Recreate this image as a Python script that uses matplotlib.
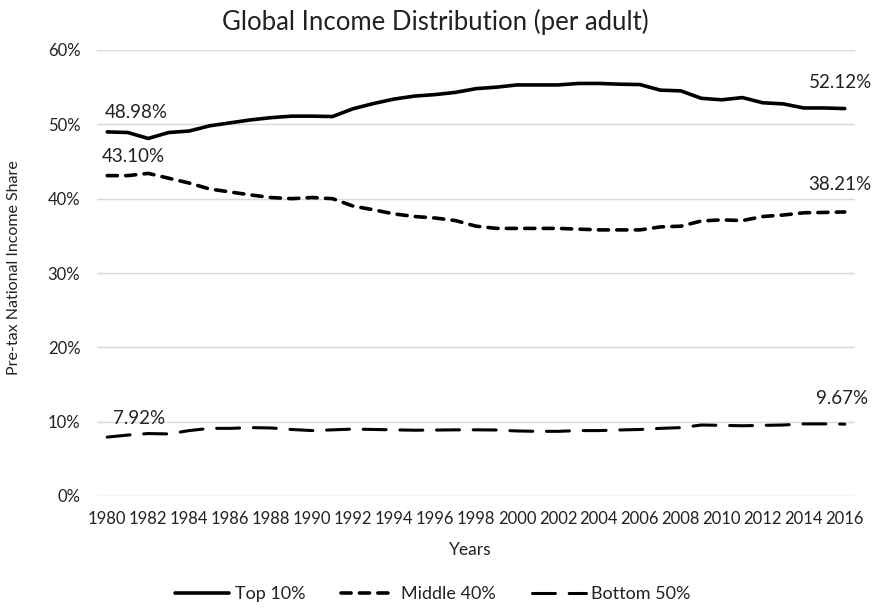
import matplotlib
matplotlib.use("Agg")
import matplotlib.pyplot as plt
from matplotlib.ticker import FuncFormatter

plt.rcParams['font.family'] = ['Lato', 'DejaVu Sans']

years = list(range(1980, 2017))
top10 = [48.98, 48.9, 48.1, 48.9, 49.1, 49.8, 50.2, 50.6, 50.9, 51.1, 51.1, 51.05,
         52.1, 52.8, 53.4, 53.8, 54.0, 54.3, 54.8, 55.0, 55.3, 55.3, 55.3, 55.5,
         55.5, 55.4, 55.35, 54.6, 54.5, 53.5, 53.3, 53.6, 52.9, 52.75, 52.2, 52.2, 52.12]
middle40 = [43.10, 43.1, 43.4, 42.75, 42.1, 41.3, 40.9, 40.5, 40.15, 40.0, 40.15, 40.0,
            39.0, 38.5, 37.95, 37.6, 37.4, 37.05, 36.3, 36.0, 36.0, 36.0, 36.0, 35.9,
            35.8, 35.8, 35.8, 36.2, 36.3, 37.0, 37.15, 37.05, 37.6, 37.8, 38.1, 38.15, 38.21]
bottom50 = [7.92, 8.2, 8.4, 8.35, 8.8, 9.1, 9.1, 9.2, 9.15, 8.95, 8.8, 8.9,
            9.0, 8.95, 8.9, 8.85, 8.87, 8.9, 8.9, 8.88, 8.75, 8.7, 8.7, 8.8,
            8.8, 8.88, 8.95, 9.1, 9.2, 9.55, 9.5, 9.45, 9.5, 9.55, 9.7, 9.7, 9.67]
series_names = ['Top 10%', 'Middle 40%', 'Bottom 50%']
y_ticks = [0, 10, 20, 30, 40, 50, 60]
x_ticks = list(range(1980, 2017, 2))

W, H = 878, 608
fig = plt.figure(figsize=(W/100, H/100), dpi=100)
ax = fig.add_axes([97/W, 1-496/H, (855-97)/W, (496-50)/H])

ax.plot(years, top10, color='black', lw=2.6, solid_capstyle='round',
        solid_joinstyle='round', label=series_names[0])
ax.plot(years, middle40, color='black', lw=2.6, linestyle=(0, (2.8, 2.3)),
        dash_capstyle='round', label=series_names[1])
ax.plot(years, bottom50, color='black', lw=2.2, linestyle=(0, (7.5, 4.5)),
        dash_capstyle='round', label=series_names[2])

ax.set_xlim(1979.5, 2016.5)
ax.set_ylim(0, 60)
ax.set_yticks(y_ticks)
ax.yaxis.set_major_formatter(FuncFormatter(lambda v, p: f"{int(v)}%"))
ax.set_xticks(x_ticks)
ax.grid(axis='y', color='#d9d9d9', lw=1)
ax.set_axisbelow(True)
for s in ax.spines.values():
    s.set_visible(False)
ax.tick_params(axis='both', length=0, labelsize=12, colors='#222222')
ax.tick_params(axis='x', pad=11)
ax.tick_params(axis='y', pad=12)

txt = '#222222'
fig.text(435/W, 1-22/H, 'Global Income Distribution (per adult)', fontsize=18.5,
         ha='center', va='center', color=txt)
fig.text(470/W, 1-550/H, 'Years', fontsize=12.5, ha='center', va='center', color=txt)
fig.text(14/W, 1-268/H, 'Pre-tax National Income Share', fontsize=11.5, rotation=90,
         ha='center', va='center', color=txt)

lab_kw = dict(fontsize=13.5, color=txt, textcoords='offset pixels', va='center')
ax.annotate(f"{top10[0]:.2f}%", (years[0], top10[0]), xytext=(-2, 19), ha='left', **lab_kw)
ax.annotate(f"{middle40[0]:.2f}%", (years[0], middle40[0]), xytext=(-5, 19), ha='left', **lab_kw)
ax.annotate(f"{bottom50[0]:.2f}%", (years[0], bottom50[0]), xytext=(6, 19), ha='left', **lab_kw)
ax.annotate(f"{top10[-1]:.2f}%", (years[-1], top10[-1]), xytext=(27, 26), ha='right', **lab_kw)
ax.annotate(f"{middle40[-1]:.2f}%", (years[-1], middle40[-1]), xytext=(27, 27), ha='right', **lab_kw)
ax.annotate(f"{bottom50[-1]:.2f}%", (years[-1], bottom50[-1]), xytext=(23, 26), ha='right', **lab_kw)

fig.legend(loc='center', bbox_to_anchor=(433/W, 1-594/H), ncol=3, frameon=False,
           fontsize=13, handlelength=3.0, handletextpad=0.3, columnspacing=2.0,
           labelcolor=txt)

fig.savefig('out.png', dpi=100)
